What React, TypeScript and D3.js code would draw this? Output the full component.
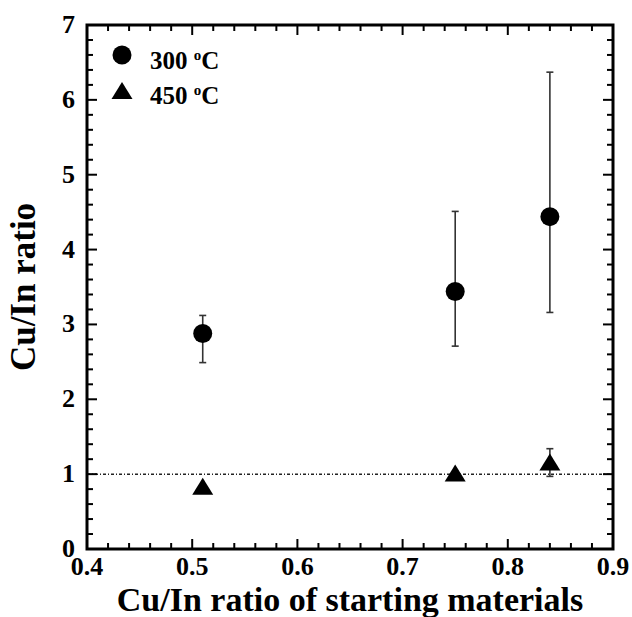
import React from "react";
import * as d3 from "d3";

// starting-material Cu/In ratio
const xValues = [0.51, 0.75, 0.84];

// 300 oC series with error bars
const y300 = [2.88, 3.44, 4.44];
const low300 = [2.49, 2.71, 3.16];
const high300 = [3.12, 4.51, 6.37];

// 450 oC series (only the last point has a visible error bar)
const y450 = [0.83, 1.01, 1.155];
const low450 = [0.83, 1.01, 0.97];
const high450 = [0.83, 1.01, 1.34];

const xTicks = [0.4, 0.5, 0.6, 0.7, 0.8, 0.9];
const yTicks = [0, 1, 2, 3, 4, 5, 6, 7];

const W = 632;
const H = 617;
const margin = { top: 25, right: 19, bottom: 68, left: 87 };
const font = "'Liberation Serif', 'Times New Roman', serif";

export default function App() {
  const x = d3.scaleLinear().domain([0.4, 0.9]).range([margin.left, W - margin.right]);
  const y = d3.scaleLinear().domain([0, 7]).range([H - margin.bottom, margin.top]);

  const x0 = x(0.4), x1 = x(0.9), y0 = y(0), y1 = y(7);

  const xMinor = d3.range(0, 26).map((i) => 0.4 + i * 0.02);
  const yMinor = d3.range(0, 36).map((i) => i * 0.2);

  const tri = (cx: number, cy: number) =>
    `M${cx},${cy - 9}L${cx + 10.5},${cy + 8}L${cx - 10.5},${cy + 8}Z`;

  const errBar = (xv: number, lo: number, hi: number, key: string) => (
    <g key={key} stroke="#333" strokeWidth={1.6}>
      <line x1={x(xv)} x2={x(xv)} y1={y(lo)} y2={y(hi)} />
      <line x1={x(xv) - 3.5} x2={x(xv) + 3.5} y1={y(lo)} y2={y(lo)} />
      <line x1={x(xv) - 3.5} x2={x(xv) + 3.5} y1={y(hi)} y2={y(hi)} />
    </g>
  );

  const degC = (label: string) => (
    <>
      {label}
      <tspan fontSize={15} dy={-9}>o</tspan>
      <tspan dy={9}>C</tspan>
    </>
  );

  return (
    <svg
      width={W}
      height={H}
      style={{ position: "absolute", left: 0, top: 0, background: "#fff" }}
      fontFamily={font}
      fontWeight="bold"
    >
      {/* reference line at ratio 1 */}
      <line x1={x0} x2={x1} y1={y(1)} y2={y(1)} stroke="#222" strokeWidth={1.5} strokeDasharray="3 2 1 2" />

      {/* minor and major ticks, all four sides, pointing inward */}
      {xMinor.map((v, i) => (
        <g key={"xm" + i} stroke="#000" strokeWidth={2}>
          <line x1={x(v)} x2={x(v)} y1={y0} y2={y0 - (i % 5 === 0 ? 10 : 6)} />
          <line x1={x(v)} x2={x(v)} y1={y1} y2={y1 + (i % 5 === 0 ? 10 : 6)} />
        </g>
      ))}
      {yMinor.map((v, i) => (
        <g key={"ym" + i} stroke="#000" strokeWidth={2}>
          <line x1={x0} x2={x0 + (i % 5 === 0 ? 10 : 6)} y1={y(v)} y2={y(v)} />
          <line x1={x1} x2={x1 - (i % 5 === 0 ? 10 : 6)} y1={y(v)} y2={y(v)} />
        </g>
      ))}

      {/* frame */}
      <rect x={x0} y={y1} width={x1 - x0} height={y0 - y1} fill="none" stroke="#000" strokeWidth={3} />

      {/* tick labels */}
      {xTicks.map((t) => (
        <text key={"xt" + t} x={x(t)} y={y0 + 26} textAnchor="middle" fontSize={26}>
          {t.toFixed(1)}
        </text>
      ))}
      {yTicks.map((t) => (
        <text key={"yt" + t} x={x0 - 12} y={y(t) + 8} textAnchor="end" fontSize={26}>
          {t}
        </text>
      ))}

      {/* axis titles */}
      <text x={(x0 + x1) / 2} y={611} textAnchor="middle" fontSize={34}>
        Cu/In ratio of starting materials
      </text>
      <text
        transform={`translate(35, ${(y0 + y1) / 2}) rotate(-90)`}
        textAnchor="middle"
        fontSize={35}
      >
        Cu/In ratio
      </text>

      {/* error bars */}
      {xValues.map((v, i) => errBar(v, low300[i], high300[i], "e3" + i))}
      {xValues.map((v, i) => errBar(v, low450[i], high450[i], "e4" + i))}

      {/* points */}
      {xValues.map((v, i) => (
        <circle key={"c" + i} cx={x(v)} cy={y(y300[i])} r={9.5} fill="#000" />
      ))}
      {xValues.map((v, i) => (
        <path key={"t" + i} d={tri(x(v), y(y450[i]))} fill="#000" />
      ))}

      {/* legend */}
      <circle cx={122} cy={55} r={9.5} fill="#000" />
      <text x={150} y={69} fontSize={25}>{degC("300 ")}</text>
      <path d={tri(122, 91)} fill="#000" />
      <text x={150} y={104} fontSize={25}>{degC("450 ")}</text>
    </svg>
  );
}
